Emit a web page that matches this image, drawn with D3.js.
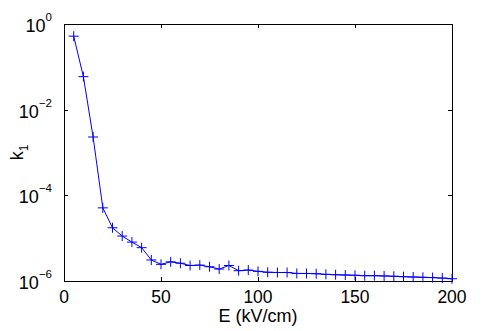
<!DOCTYPE html>
<html>
<head>
<meta charset="utf-8">
<script src="https://cdn.jsdelivr.net/npm/d3@7"></script>
<style>
  body { margin: 0; background: #fff; }
  svg { display: block; font-family: "Liberation Sans", Arial, sans-serif; }
</style>
</head>
<body>
<svg id="chart"></svg>
<script>
// field strength E (kV/cm)
const fieldE = [5, 10, 15, 20, 25, 30, 35, 40, 45, 50, 55, 60, 65, 70, 75, 80, 85, 90, 95, 100,
  105, 110, 115, 120, 125, 130, 135, 140, 145, 150, 155, 160, 165, 170, 175, 180, 185, 190, 195, 200];
// k1 values
const k1 = [0.52, 0.059, 0.0023, 5.1e-5, 1.75e-5, 1.12e-5, 8.1e-6, 6.0e-6, 3.1e-6, 2.45e-6,
  2.8e-6, 2.6e-6, 2.3e-6, 2.35e-6, 2.15e-6, 1.9e-6, 2.3e-6, 1.74e-6, 1.8e-6, 1.68e-6,
  1.6e-6, 1.58e-6, 1.58e-6, 1.5e-6, 1.5e-6, 1.48e-6, 1.43e-6, 1.4e-6, 1.38e-6, 1.36e-6,
  1.33e-6, 1.33e-6, 1.31e-6, 1.29e-6, 1.26e-6, 1.24e-6, 1.22e-6, 1.2e-6, 1.17e-6, 1.13e-6];
const xTicks = [0, 50, 100, 150, 200];
const yTickExps = [0, -2, -4, -6];

let width = 498;
let height = 331;
let padding = { left: 64, right: 46, top: 24, bottom: 50 };

let svg = d3.select('#chart')
  .attr('width', width)
  .attr('height', height);

let xScale = d3.scaleLinear()
  .domain([0, 200])
  .range([padding.left, width - padding.right]);
let yScale = d3.scaleLog()
  .domain([1e-6, 1])
  .range([height - padding.bottom, padding.top]);

let x0 = padding.left, x1 = width - padding.right;
let y0 = height - padding.bottom, y1 = padding.top;

// inward ticks on all four sides (matlab style)
let tickLen = 4;
let xAxisB = d3.axisBottom(xScale).tickValues(xTicks).tickSizeInner(-tickLen).tickSizeOuter(0).tickFormat('');
let xAxisT = d3.axisTop(xScale).tickValues(xTicks).tickSizeInner(-tickLen).tickSizeOuter(0).tickFormat('');
let yVals = yTickExps.map(e => Math.pow(10, e));
let yAxisL = d3.axisLeft(yScale).tickValues(yVals).tickSizeInner(-tickLen).tickSizeOuter(0).tickFormat('');
let yAxisR = d3.axisRight(yScale).tickValues(yVals).tickSizeInner(-tickLen).tickSizeOuter(0).tickFormat('');

svg.append('g').attr('transform', `translate(0,${y0})`).call(xAxisB);
svg.append('g').attr('transform', `translate(0,${y1})`).call(xAxisT);
svg.append('g').attr('transform', `translate(${x0},0)`).call(yAxisL);
svg.append('g').attr('transform', `translate(${x1},0)`).call(yAxisR);
svg.selectAll('.domain').remove();
svg.selectAll('.tick line').attr('stroke', '#000').attr('shape-rendering', 'crispEdges');

svg.append('rect')
  .attr('x', x0 + 0.5).attr('y', y1 + 0.5)
  .attr('width', x1 - x0).attr('height', y0 - y1)
  .attr('fill', 'none').attr('stroke', '#000');

// x tick labels
svg.append('g').selectAll('text')
  .data(xTicks)
  .join('text')
  .attr('x', d => xScale(d))
  .attr('y', y0 + 22)
  .attr('text-anchor', 'middle')
  .attr('font-size', 17.5)
  .text(d => d);

// y tick labels 10^n
let yl = svg.append('g').selectAll('text')
  .data(yTickExps)
  .join('text')
  .attr('x', x0 - 12)
  .attr('y', d => yScale(Math.pow(10, d)) + 8)
  .attr('text-anchor', 'end')
  .attr('font-size', 18);
yl.append('tspan').text('10');
yl.append('tspan').attr('dy', -11).attr('font-size', 11.5).text(d => d === 0 ? '0' : '\u2212' + (-d));

// axis labels
svg.append('text')
  .attr('x', xScale(100))
  .attr('y', 322)
  .attr('text-anchor', 'middle')
  .attr('font-size', 18)
  .text('E (kV/cm)');

let ylab = svg.append('text')
  .attr('transform', `translate(23,${(y0 + y1) / 2}) rotate(-90)`)
  .attr('text-anchor', 'middle')
  .attr('font-size', 18);
ylab.append('tspan').text('k');
ylab.append('tspan').attr('dy', 5).attr('font-size', 12).text('1');

// series
let data = fieldE.map((e, i) => [e, k1[i]]);
let line = d3.line()
  .x(d => xScale(d[0]))
  .y(d => yScale(d[1]));

svg.append('path')
  .datum(data)
  .attr('d', line)
  .attr('stroke', '#0000ff')
  .attr('stroke-width', 1)
  .attr('fill', 'none');

let ms = 5;
svg.append('g').selectAll('path')
  .data(data)
  .join('path')
  .attr('d', d => {
    let px = xScale(d[0]), py = yScale(d[1]);
    return `M${px - ms},${py}H${px + ms}M${px},${py - ms}V${py + ms}`;
  })
  .attr('stroke', '#0000ff')
  .attr('stroke-width', 1)
  .attr('fill', 'none');
</script>
</body>
</html>
